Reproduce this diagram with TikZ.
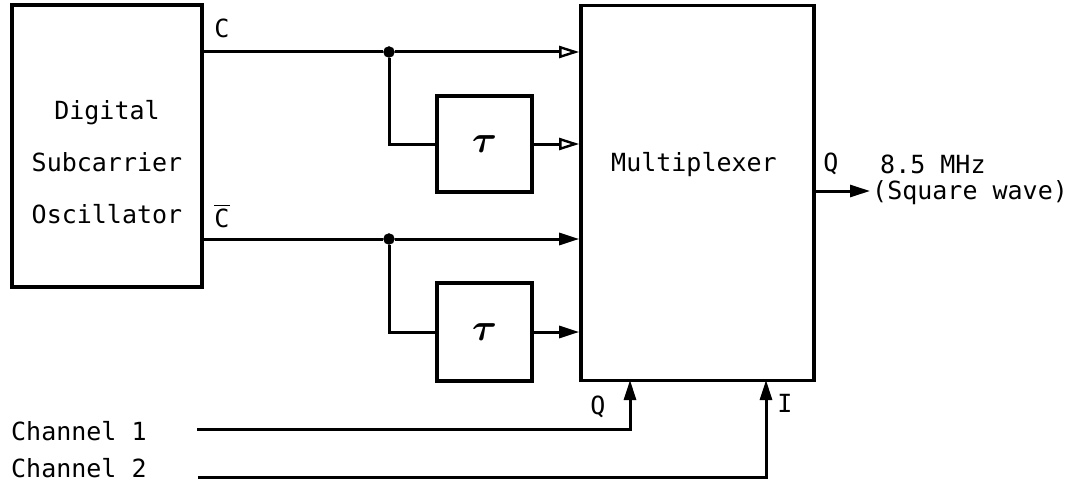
\documentclass[tikz,border=0pt]{standalone}
\usepackage{amsmath}
\usepackage{graphicx}
\usepackage{fontspec}
\setmonofont{DejaVu Sans Mono}
\usetikzlibrary{arrows.meta}
\begin{document}
\begin{tikzpicture}[x=1pt,y=-1pt,
  blk/.style={draw,line width=3.6pt,inner sep=0pt},
  wire/.style={line width=3pt},
  lbl/.style={font=\ttfamily\fontsize{25}{30}\selectfont,inner sep=0pt},
  lblc/.style={font=\ttfamily\fontsize{25}{52}\selectfont,inner sep=0pt,align=center},
  oarr/.style={-{Triangle[open,length=20pt,width=12pt,line width=2.4pt]}},
  farr/.style={-{Triangle[length=20pt,width=12pt]}},
  jdot/.style={circle,fill,draw,inner sep=0pt,minimum size=11pt}]
\useasboundingbox (0,0) rectangle (1087,495);
% blocks
\node[blk,minimum width=190pt,minimum height=282pt] (osc) at (107,146) {};
\node[lblc] (osct) at (107,162) {Digital\\Subcarrier\\Oscillator};
\node[blk,minimum width=233pt,minimum height=375pt] (mux) at (697.5,193) {};
\node[lbl] (muxt) at (694,165) {Multiplexer};
\node[blk,minimum width=95pt,minimum height=96pt] (tau1) at (484.5,144) {\scalebox{3.8}{$\boldsymbol{\tau}$}};
\node[blk,minimum width=95pt,minimum height=98pt] (tau2) at (484.5,332) {\scalebox{3.8}{$\boldsymbol{\tau}$}};
% labels
\node[lbl] (cl) at (222,28) {C};
\node[lbl] (cbl) at (222,216) {$\overline{\hbox{C}}$};
\node[lbl] (qo) at (831,164) {Q};
\node[lbl,anchor=west] (fr) at (880,164) {8.5 MHz};
\node[lbl,anchor=west] (sq) at (872,193) {(Square wave)};
\node[lbl] (qi) at (598,407) {Q};
\node[lbl] (ii) at (785,403) {I};
\node[lbl,anchor=west] (ch1) at (11,431) {Channel 1};
\node[lbl,anchor=west] (ch2) at (11,468) {Channel 2};
% junctions
\node[jdot] (j1) at (389,52) {};
\node[jdot] (j2) at (389,239) {};
% C path
\draw[wire] (osc.east |- j1) -- (j1);
\draw[wire,oarr] (j1) -- (mux.west |- j1);
\draw[wire] (j1) |- (tau1.west);
\draw[wire,oarr] (tau1.east) -- (mux.west |- tau1.east);
% C-bar path
\draw[wire] (osc.east |- j2) -- (j2);
\draw[wire,farr] (j2) -- (mux.west |- j2);
\draw[wire] (j2) |- (tau2.west);
\draw[wire,farr] (tau2.east) -- (mux.west |- tau2.east);
% output
\coordinate (out) at (870,191);
\draw[wire,farr] (mux.east |- out) -- (out);
% channel inputs
\coordinate (c1s) at (197,429);
\coordinate (c2s) at (198,477);
\coordinate (qin) at (630,380);
\coordinate (iin) at (766,380);
\draw[wire,farr] (c1s) -| (qin);
\draw[wire,farr] (c2s) -| (iin);
\end{tikzpicture}
\end{document}
